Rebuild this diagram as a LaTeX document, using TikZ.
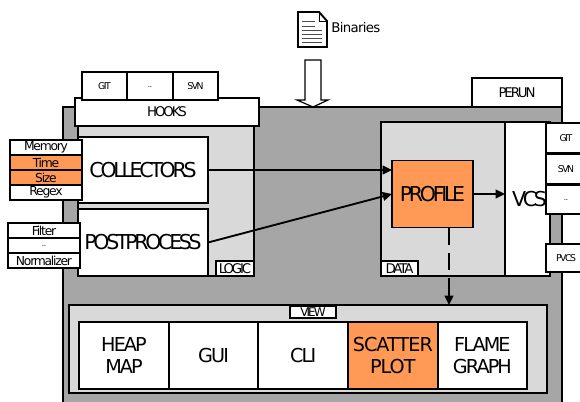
\documentclass[tikz,border=0pt]{standalone}
\usepackage{fontspec}
\setmainfont{DejaVu Sans}
\newfontfamily\tightfont[LetterSpace=-16]{DejaVu Sans}
\newfontfamily\midfont[LetterSpace=-10]{DejaVu Sans}
\newfontfamily\loosefont[LetterSpace=-5]{DejaVu Sans}
\usetikzlibrary{arrows.meta,positioning}
\definecolor{perungray}{HTML}{A6A6A6}
\definecolor{partgray}{HTML}{D9D9D9}
\definecolor{hiorange}{HTML}{FF9955}
\newcommand{\lowdots}{\raisebox{-1.5pt}{\loosefont\fontsize{5.5}{6}\selectfont ..}}
\tikzset{
    blockbox/.style={draw=black, line width=1.4pt, fill=white, inner sep=0pt, outer sep=0pt, align=center},
    listbox/.style={blockbox, minimum width=54pt, minimum height=11.25pt, font=\midfont\fontsize{9.25}{10}\selectfont},
    smallbox/.style={blockbox, minimum height=21pt, font=\tightfont\fontsize{7}{8}\selectfont},
    tagbox/.style={blockbox, font=\tightfont\fontsize{10}{10}\selectfont},
    mainbox/.style={blockbox, font=\tightfont\fontsize{15.4}{17}\selectfont},
    viewbox/.style={blockbox, minimum width=67.2pt, minimum height=50.2pt, font=\midfont\fontsize{14.4}{17}\selectfont},
    flow/.style={line width=1.4pt, -{Triangle[length=7pt,width=6.5pt]}},
}
\begin{document}
\begin{tikzpicture}[x=0.75pt,y=-0.75pt]
    \useasboundingbox (0,0) rectangle (580,401);
    \clip (0,0) rectangle (580,401);
    % outer parts
    \draw[line width=1.4pt, fill=perungray] (63,107) rectangle (562,420);
    \node[tagbox, minimum width=67.5pt, minimum height=21.75pt] (perun) at (517,92.5) {PERUN};
    % logic part
    \node[blockbox, fill=partgray, minimum width=132pt, minimum height=112.5pt] (logic) at (166,201) {};
    \node[tagbox, minimum width=138pt, minimum height=21pt] (hooks) at (167,112) {HOOKS};
    \node[smallbox, minimum width=33.75pt] (hookgit) at (104.5,86) {GIT};
    \node[smallbox, minimum width=34.5pt] (hookdots) at (150,86) {\lowdots};
    \node[smallbox, minimum width=33.75pt] (hooksvn) at (195.5,86) {SVN};
    \node[mainbox, minimum width=97.5pt, minimum height=49.5pt] (collectors) at (143,170) {COLLECTORS};
    \node[mainbox, minimum width=97.5pt, minimum height=50.25pt] (postprocess) at (143,242.5) {POSTPROCESS};
    \node[tagbox, minimum width=28.5pt, minimum height=11.25pt] (logictag) at (235,268.5) {LOGIC};
    % collector list
    \node[listbox] (memory) at (46,147.5) {Memory};
    \node[listbox, fill=hiorange] (timebox) at (46,162.5) {Time};
    \node[listbox, fill=hiorange] (sizebox) at (46,177.5) {Size};
    \node[listbox] (regex) at (46,192.5) {Regex};
    % postprocess list
    \node[listbox] (filter) at (44,230.5) {Filter};
    \node[listbox] (postdots) at (44,245.5) {\lowdots};
    \node[listbox] (normalizer) at (44,260.5) {Normalizer};
    % data part
    \node[blockbox, fill=partgray, minimum width=126.75pt, minimum height=115.5pt] (data) at (465.5,199) {};
    \node[mainbox, minimum width=33.75pt, minimum height=115.5pt] (vcs) at (527.5,199) {\hspace{3pt}VCS};
    \node[mainbox, fill=hiorange, minimum width=60.75pt, minimum height=50.25pt] (profile) at (432.5,194) {PROFILE};
    \node[tagbox, minimum width=27.75pt, minimum height=11.25pt] (datatag) at (399.5,268.5) {DATA};
    \node[smallbox, minimum width=30pt, minimum height=22.5pt] (vcsgit) at (566,138) {GIT};
    \node[smallbox, minimum width=30pt, minimum height=21.75pt] (vcssvn) at (566,169) {SVN};
    \node[smallbox, minimum width=30pt, minimum height=21.75pt] (vcsdots) at (566,199.5) {\lowdots};
    \node[smallbox, minimum width=30pt] (vcspvcs) at (566,258) {PVCS};
    % view part
    \node[blockbox, fill=partgray, minimum width=358.5pt, minimum height=66pt] (view) at (308,349) {};
    \node[tagbox, font=\tightfont\fontsize{9}{9}\selectfont, minimum width=34.5pt, minimum height=9pt] (viewtag) at (313,312) {VIEW};
    \node[viewbox] (heapmap) at (124,355.5) {HEAP\\MAP};
    \node[viewbox, right=0pt of heapmap] (gui) {GUI};
    \node[viewbox, right=0pt of gui] (cli) {CLI};
    \node[viewbox, fill=hiorange, right=0pt of cli, font=\loosefont\fontsize{14.4}{17}\selectfont] (scatter) {SCATTER\\PLOT};
    \node[viewbox, right=0pt of scatter] (flame) {FLAME\\GRAPH};
    % connectors
    \coordinate (profileout) at ([xshift=12.4pt]profile.south);
    \draw[flow] (collectors.east) -- (profile.west |- collectors.east);
    \draw[flow] (postprocess.east) -- (profile.west);
    \draw[flow] (profile.east) -- (vcs.west |- profile.east);
    \draw[flow, dash pattern=on 13pt off 6pt] (profileout) -- (profileout |- view.north);
    % binaries
    \draw[line width=0.9pt, fill=white] (305,60) -- (321,60) -- (321,100) -- (328,100) -- (313,107) -- (297,100) -- (305,100) -- cycle;
    \draw[line width=1.4pt, fill=white] (298,12) -- (319,12) -- (327,21) -- (327,47) -- (298,47) -- cycle;
    \draw[line width=0.6pt] (319,12) -- (319,21) -- (327,21);
    \foreach \y in {21,26} \draw[line width=0.7pt, black!70] (302,\y) -- (315,\y);
    \foreach \y in {30,34,38,42} \draw[line width=0.7pt, black!70] (302,\y) -- (322,\y);
    \node[anchor=west, inner sep=0pt, font=\loosefont\fontsize{10}{10}\selectfont] (binaries) at (331,28) {Binaries};
\end{tikzpicture}
\end{document}
